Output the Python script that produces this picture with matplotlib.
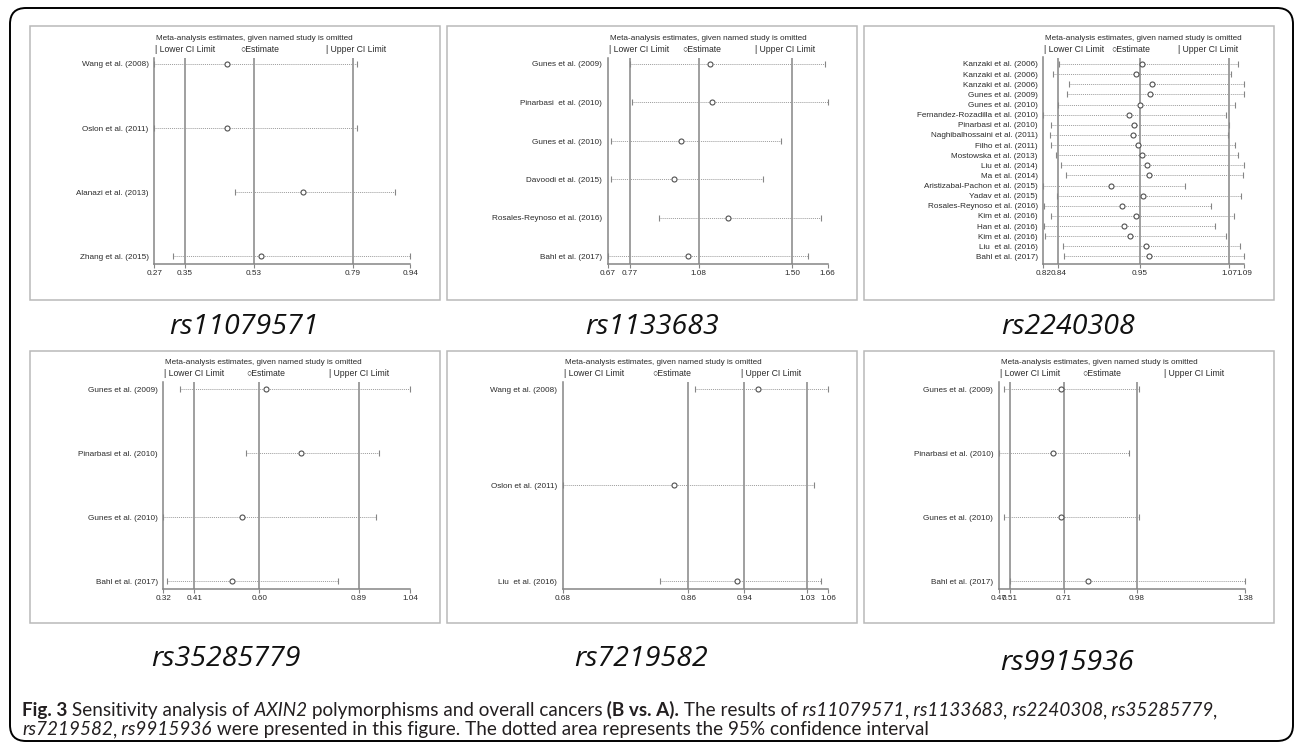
import numpy as np
import matplotlib
matplotlib.use("Agg")
import matplotlib.pyplot as plt
from matplotlib.patches import FancyBboxPatch, Rectangle

W, H, DPI = 1295, 743, 100

# ---- leave-one-out estimates (lower CI, estimate, upper CI) per SNP ----
rs11079571_studies = ["Wang et al. (2008)", "Oslon et al. (2011)", "Alanazi et al. (2013)", "Zhang et al. (2015)"]
rs11079571_lo = [0.27, 0.27, 0.48, 0.32]
rs11079571_est = [0.46, 0.46, 0.66, 0.55]
rs11079571_hi = [0.80, 0.80, 0.90, 0.94]
rs11079571_pooled = [0.35, 0.53, 0.79]
rs11079571_range = [0.27, 0.94]

rs1133683_studies = ["Gunes et al. (2009)", "Pinarbasi  et al. (2010)", "Gunes et al. (2010)",
                     "Davoodi et al. (2015)", "Rosales-Reynoso et al. (2016)", "Bahl et al. (2017)"]
rs1133683_lo = [0.77, 0.78, 0.685, 0.685, 0.90, 0.67]
rs1133683_est = [1.13, 1.14, 1.00, 0.97, 1.21, 1.03]
rs1133683_hi = [1.65, 1.66, 1.45, 1.37, 1.63, 1.57]
rs1133683_pooled = [0.77, 1.08, 1.50]
rs1133683_range = [0.67, 1.66]

rs2240308_studies = ["Kanzaki et al. (2006)", "Kanzaki et al. (2006)", "Kanzaki et al. (2006)",
                     "Gunes et al. (2009)", "Gunes et al. (2010)", "Fernandez-Rozadilla et al. (2010)",
                     "Pinarbasi et al. (2010)", "Naghibalhossaini et al. (2011)", "Filho et al. (2011)",
                     "Mostowska et al. (2013)", "Liu et al. (2014)", "Ma et al. (2014)",
                     "Aristizabal-Pachon et al. (2015)", "Yadav et al. (2015)", "Rosales-Reynoso et al. (2016)",
                     "Kim et al. (2016)", "Han et al. (2016)", "Kim et al. (2016)",
                     "Liu  et al. (2016)", "Bahl et al. (2017)"]
rs2240308_lo = [0.841, 0.833, 0.855, 0.852, 0.840, 0.820, 0.830, 0.829, 0.831, 0.837,
                0.844, 0.851, 0.820, 0.839, 0.821, 0.830, 0.821, 0.822, 0.847, 0.848]
rs2240308_est = [0.953, 0.945, 0.966, 0.963, 0.950, 0.935, 0.942, 0.941, 0.947, 0.952,
                 0.959, 0.962, 0.911, 0.954, 0.926, 0.945, 0.929, 0.936, 0.958, 0.962]
rs2240308_hi = [1.082, 1.072, 1.090, 1.089, 1.078, 1.065, 1.069, 1.068, 1.078, 1.082,
                1.089, 1.088, 1.011, 1.086, 1.045, 1.076, 1.050, 1.065, 1.084, 1.090]
rs2240308_pooled = [0.84, 0.95, 1.07]
rs2240308_range = [0.82, 1.09]

rs35285779_studies = ["Gunes et al. (2009)", "Pinarbasi et al. (2010)", "Gunes et al. (2010)", "Bahl et al. (2017)"]
rs35285779_lo = [0.37, 0.56, 0.32, 0.33]
rs35285779_est = [0.62, 0.72, 0.55, 0.52]
rs35285779_hi = [1.04, 0.95, 0.94, 0.83]
rs35285779_pooled = [0.41, 0.60, 0.89]
rs35285779_range = [0.32, 1.04]

rs7219582_studies = ["Wang et al. (2008)", "Oslon et al. (2011)", "Liu  et al. (2016)"]
rs7219582_lo = [0.87, 0.68, 0.82]
rs7219582_est = [0.96, 0.84, 0.93]
rs7219582_hi = [1.06, 1.04, 1.05]
rs7219582_pooled = [0.86, 0.94, 1.03]
rs7219582_range = [0.68, 1.06]

rs9915936_studies = ["Gunes et al. (2009)", "Pinarbasi et al. (2010)", "Gunes et al. (2010)", "Bahl et al. (2017)"]
rs9915936_lo = [0.49, 0.47, 0.49, 0.51]
rs9915936_est = [0.70, 0.67, 0.70, 0.80]
rs9915936_hi = [0.99, 0.95, 0.99, 1.38]
rs9915936_pooled = [0.51, 0.71, 0.98]
rs9915936_range = [0.47, 1.38]

# ---- styling ----
SMALL = ["Liberation Sans", "DejaVu Sans"]
REF = "#858585"
DOT = "#9c9c9c"
INK = "#2b2b2b"
FS = 5.9

fig = plt.figure(figsize=(W / DPI, H / DPI), dpi=DPI)
fig.patch.set_facecolor("white")


def px_axes(x0, x1, ytop, ybot):
    return fig.add_axes([x0 / W, 1 - ybot / H, (x1 - x0) / W, (ybot - ytop) / H])


def forest(x0, x1, geo, studies, lo, est, hi, pooled, xr):
    vtop, yfirst, ylast, yaxis, ytitle, ylegend = geo
    ax = px_axes(x0, x1, vtop, yaxis)
    n = len(studies)
    rows = np.arange(1, n + 1)
    step = (ylast - yfirst) / (n - 1)
    ax.set_ylim(n + (yaxis - ylast) / step, 1 - (yfirst - vtop) / step)
    ax.set_xlim(*xr)
    for v in pooled:
        ax.axvline(v, color=REF, lw=1.1, zorder=1)
    ax.hlines(rows, lo, hi, colors=DOT, lw=0.7, linestyles=(0, (1, 1)), zorder=2, clip_on=False)
    ax.plot(lo, rows, "|", ms=4.5, mew=0.8, color=REF, clip_on=False, zorder=3)
    ax.plot(hi, rows, "|", ms=4.5, mew=0.8, color=REF, clip_on=False, zorder=3)
    ax.plot(est, rows, "o", ms=3.6, mfc="white", mec="#505050", mew=0.8, clip_on=False, zorder=4)

    ticks = [xr[0]] + list(pooled) + [xr[1]]
    ax.set_xticks(ticks)
    ax.set_xticklabels(["%.2f" % t for t in ticks], fontfamily=SMALL, fontsize=FS, color=INK)
    ax.set_yticks(rows)
    ax.set_yticklabels(studies, fontfamily=SMALL, fontsize=FS, color=INK)
    ax.tick_params(axis="y", length=0, pad=4)
    ax.tick_params(axis="x", length=3, width=0.8, color=REF, pad=1.5)
    for side in ["top", "right"]:
        ax.spines[side].set_visible(False)
    for side in ["left", "bottom"]:
        ax.spines[side].set_color(REF)
        ax.spines[side].set_linewidth(1.1)
    ax.patch.set_alpha(0)

    w = x1 - x0
    fig.text((x0 + 2) / W, 1 - ytitle / H, "Meta-analysis estimates, given named study is omitted",
             family=SMALL, fontsize=FS, color=INK, va="center", ha="left")
    for k, lab in enumerate(["| Lower CI Limit", "\u25cbEstimate", "| Upper CI Limit"]):
        fig.text((x0 + 1 + k * w / 3) / W, 1 - ylegend / H, lab,
                 family=SMALL, fontsize=6.2, color=INK, va="center", ha="left")


top_geo = (57.5, 64.0, 256.5, 264.0, 38.0, 49.0)
bot_geo = (382.0, 389.3, 581.3, 588.7, 363.0, 374.0)

forest(154.3, 410.3, top_geo, rs11079571_studies, rs11079571_lo, rs11079571_est, rs11079571_hi,
       rs11079571_pooled, rs11079571_range)
forest(607.7, 827.7, top_geo, rs1133683_studies, rs1133683_lo, rs1133683_est, rs1133683_hi,
       rs1133683_pooled, rs1133683_range)
forest(1043.3, 1244.3, top_geo, rs2240308_studies, rs2240308_lo, rs2240308_est, rs2240308_hi,
       rs2240308_pooled, rs2240308_range)
forest(163.3, 410.3, bot_geo, rs35285779_studies, rs35285779_lo, rs35285779_est, rs35285779_hi,
       rs35285779_pooled, rs35285779_range)
forest(562.7, 828.0, bot_geo, rs7219582_studies, rs7219582_lo, rs7219582_est, rs7219582_hi,
       rs7219582_pooled, rs7219582_range)
forest(998.7, 1245.0, bot_geo, rs9915936_studies, rs9915936_lo, rs9915936_est, rs9915936_hi,
       rs9915936_pooled, rs9915936_range)

# panel frames
for (x0, x1) in [(30, 440), (447, 857), (864, 1274)]:
    for (y0, y1) in [(26, 300), (351, 623)]:
        fig.patches.append(Rectangle((x0 / W, 1 - y1 / H), (x1 - x0) / W, (y1 - y0) / H,
                                     transform=fig.transFigure, fill=False, ec="#b9b9b9", lw=1.1))

# outer rounded frame
fig.patches.append(FancyBboxPatch((10 / DPI, (H - 741) / DPI), (1293 - 10) / DPI, (741 - 8) / DPI,
                                  boxstyle="round,pad=0,rounding_size=0.16",
                                  transform=fig.dpi_scale_trans, fill=False, ec="black", lw=1.4))

# SNP names under each panel
snp_labels = ["rs11079571", "rs1133683", "rs2240308", "rs35285779", "rs7219582", "rs9915936"]
label_pos = [(244, 327), (652, 327), (1068, 327), (226, 659), (641, 659), (1067, 663)]
for lab, (x, y) in zip(snp_labels, label_pos):
    fig.text(x / W, 1 - y / H, lab, family=["Open Sans", "DejaVu Sans"], style="italic",
             fontsize=20.5, color="#111111", ha="center", va="center")

# caption, drawn run by run so the styles can change inside a line
CAP_FONT = ["Lato", "DejaVu Sans"]
line1 = [("Fig. 3", "bold", "normal"), (" Sensitivity analysis of", "normal", "normal"),
         (" AXIN2", "normal", "italic"), (" polymorphisms and overall cancers", "normal", "normal"),
         (" (B vs. A).", "bold", "normal"), (" The results of", "normal", "normal"),
         (" rs11079571", "normal", "italic"), (",", "normal", "normal"),
         (" rs1133683", "normal", "italic"), (",", "normal", "normal"),
         (" rs2240308", "normal", "italic"), (",", "normal", "normal"),
         (" rs35285779", "normal", "italic"), (",", "normal", "normal")]
line2 = [("rs7219582", "normal", "italic"), (",", "normal", "normal"),
         (" rs9915936", "normal", "italic"),
         (" were presented in this figure. The dotted area represents the 95% confidence interval",
          "normal", "normal")]

renderer = fig.canvas.get_renderer()


def draw_runs(runs, x, y, size, draw=True):
    arts = []
    for txt, wt, st in runs:
        t = fig.text(x / W, 1 - y / H, txt, family=CAP_FONT, fontsize=size, weight=wt, style=st,
                     color="#231f20", ha="left", va="baseline")
        x += t.get_window_extent(renderer).width
        arts.append(t)
    if not draw:
        for t in arts:
            t.remove()
    return x


base = 12.0
end = draw_runs(line1, 22, 720, base, draw=False)
cap_size = base * (1214 - 22) / (end - 22)
draw_runs(line1, 22, 716, cap_size)
draw_runs(line2, 22, 735, cap_size)

fig.savefig("out.png", dpi=DPI)
